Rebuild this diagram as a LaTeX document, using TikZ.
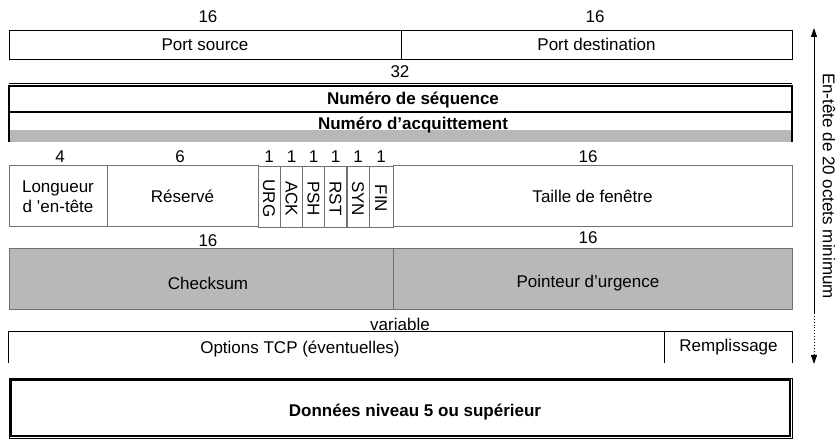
\documentclass[tikz,border=0pt]{standalone}
\usepackage{fontspec}
\setmainfont{Liberation Sans}
\usetikzlibrary{arrows.meta}
\definecolor{hdrgray}{HTML}{B8B8B8}
\definecolor{edgegray}{HTML}{707070}
\begin{document}
\begin{tikzpicture}[x=1pt,y=-1pt,
  txt/.style={font=\fontsize{17}{20}\selectfont, inner sep=0pt},
  btxt/.style={font=\fontsize{17}{20}\selectfont\bfseries, inner sep=0pt},
  cell/.style={draw, line width=0.9pt, inner sep=0pt, txt},
  graycell/.style={cell, draw=edgegray, line width=1pt},
  flag/.style={cell, draw=edgegray, line width=0.8pt, minimum width=22pt, minimum height=61pt},
  flagtxt/.style={txt, rotate=-90},
  tip/.style={-{Triangle[length=9pt,width=6pt]}}
]
\useasboundingbox (0,0) rectangle (839,443);

% --- row 1: ports ---
\node[txt] (l16a) at (208,17) {16};
\node[txt] (l16b) at (595,17) {16};
\node[cell, minimum width=392pt, minimum height=29pt] (psrc) at (205,44.5) {Port source};
\node[cell, minimum width=391pt, minimum height=29pt] (pdst) at (596.5,44.5) {Port destination};

% --- rows 2-3: sequence and acknowledgement numbers ---
\node[txt] (l32) at (400,72) {32};
\fill[hdrgray] (9,130) rectangle (792,142);
\draw[line width=0.7pt] (9,83) -- (792,83);
\draw[line width=1.8pt] (9,86) rectangle (792,112);
\draw[line width=1.8pt] (9,112) -- (9,142) (792,112) -- (792,142);
\coordinate (seqc) at (413,100);
\coordinate (ackc) at (413,125);
\node[btxt] (seq) at (seqc) {Numéro de séquence};
\node[btxt] (ack) at (ackc) {Numéro d'acquittement};

% --- row 4: header length, reserved, flags, window ---
\node[txt] (l4) at (60,157) {4};
\node[txt] (l6) at (180,157) {6};
\node[graycell, minimum width=98pt, minimum height=61pt, align=center] (hlen) at (58,196.5) {Longueur\\d 'en-tête};
\node[graycell, minimum width=151pt, minimum height=61pt] (resv) at (182.5,196.5) {Réservé};
\node[flag] (urg) at (269,196.5) {};
\node[flag] (ackf) at (291.5,196.5) {};
\node[flag] (psh) at (313.5,196.5) {};
\node[flag] (rst) at (335.5,196.5) {};
\node[flag] (syn) at (358,196.5) {};
\node[flag, minimum width=24pt] (fin) at (381,196.5) {};
\node[flagtxt] at ([yshift=-2pt]urg.center) {URG};
\node[flagtxt] at ([yshift=-2pt]ackf.center) {ACK};
\node[flagtxt] at ([yshift=-2pt]psh.center) {PSH};
\node[flagtxt] at ([yshift=-2pt]rst.center) {RST};
\node[flagtxt] at ([yshift=-2pt]syn.center) {SYN};
\node[flagtxt] at ([yshift=-2pt]fin.center) {FIN};
\foreach \f in {urg,ackf,psh,rst,syn,fin} \node[txt] at ([yshift=9pt]\f.north) {1};
\node[txt] (l16c) at (588,157) {16};
\node[graycell, minimum width=399pt, minimum height=61pt] (win) at (592.5,196.5) {Taille de fenêtre};

% --- row 5: checksum and urgent pointer ---
\node[txt] (l16d) at (208,241) {16};
\node[txt] (l16e) at (588,238) {16};
\node[graycell, fill=hdrgray, minimum width=384pt, minimum height=61pt] (chk) at (201,279.5) {};
\node[graycell, fill=hdrgray, minimum width=399pt, minimum height=61pt] (urgp) at (592.5,279.5) {};
\node[txt] at (208,283) {Checksum};
\node[txt] at (588,283) {Pointeur d’urgence};

% --- row 6: options and padding (open at the bottom) ---
\node[txt] (var) at (400,324) {variable};
\node[inner sep=0pt, minimum width=656pt, minimum height=31pt] (opt) at (337,347.5) {};
\node[inner sep=0pt, minimum width=127pt, minimum height=31pt] (pad) at (728.5,347.5) {};
\draw[line width=0.9pt] (opt.south west) -- (opt.north west) -- (pad.north east) -- (pad.south east);
\draw[line width=0.9pt] (pad.north west) -- (pad.south west);
\node[txt] (optl) at (300,349) {Options TCP (éventuelles)};
\node[txt] (padl) at (pad) {Remplissage};

% --- row 7: payload ---
\draw[line width=0.7pt] (9,378) rectangle (792,438);
\node[draw, line width=1.6pt, inner sep=0pt, minimum width=779pt, minimum height=56pt] (data) at (400.5,408) {};
\node[btxt] (datal) at (415,412) {Données niveau 5 ou supérieur};

% --- header size indicator ---
\coordinate (atop) at (814,28);
\coordinate (abot) at (814,313);
\coordinate (aopt) at (814,364);
\draw[line width=0.9pt, tip, {Triangle[length=9pt,width=6pt]}-] (atop) -- (abot);
\draw[line width=0.9pt, dotted, tip] (abot) -- (aopt);
\node[txt, rotate=-90] (hdr) at (829,186) {En-tête de 20 octets minimum};
\end{tikzpicture}
\end{document}
